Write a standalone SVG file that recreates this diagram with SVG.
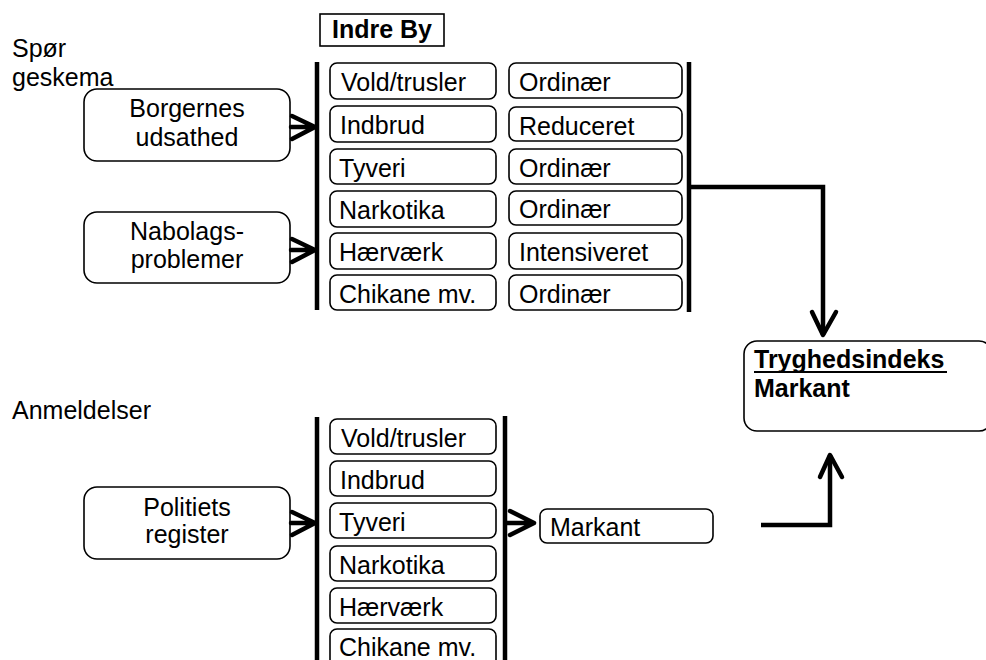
<svg xmlns="http://www.w3.org/2000/svg" width="986" height="660" viewBox="0 0 986 660">
<style>
text{font-family:"Liberation Sans",Arial,sans-serif;font-size:25px;fill:#000}
.b{font-weight:bold}
.box{fill:#fff;stroke:#000;stroke-width:1.6}
.bar{stroke:#000;stroke-width:4.5;fill:none}
.con{stroke:#000;stroke-width:4.5;fill:none;stroke-linecap:round;stroke-linejoin:round}
.sq{stroke-linecap:butt;stroke-linejoin:miter}
</style>
<rect width="986" height="660" fill="#fff"/>
<g id="labels">
<text x="12" y="57">Spør</text>
<text x="12" y="86">geskema</text>
<text x="12" y="419">Anmeldelser</text>
</g>
<g id="indre-by"><rect x="320" y="14" width="124" height="32" fill="#fff" stroke="#000" stroke-width="1.6"/><text class="b" x="332" y="38">Indre By</text></g>
<g id="borgernes"><rect class="box" x="84" y="89" width="206" height="72" rx="13"/><text x="187" y="117" text-anchor="middle">Borgernes</text><text x="187" y="146" text-anchor="middle">udsathed</text></g>
<g id="nabolags"><rect class="box" x="84" y="212" width="206" height="71" rx="13"/><text x="187" y="240" text-anchor="middle">Nabolags-</text><text x="187" y="268" text-anchor="middle">problemer</text></g>
<g id="politiets"><rect class="box" x="84" y="487" width="206" height="72" rx="13"/><text x="187" y="516" text-anchor="middle">Politiets</text><text x="187" y="543" text-anchor="middle">register</text></g>
<g id="top-categories">
<rect class="box" x="330" y="63" width="166" height="36" rx="7"/><text x="341" y="91">Vold/trusler</text>
<rect class="box" x="330" y="106" width="166" height="36" rx="7"/><text x="340" y="134">Indbrud</text>
<rect class="box" x="330" y="149" width="166" height="35" rx="7"/><text x="339" y="177">Tyveri</text>
<rect class="box" x="330" y="191" width="166" height="36" rx="7"/><text x="339" y="219">Narkotika</text>
<rect class="box" x="330" y="233" width="166" height="36" rx="7"/><text x="339" y="261">Hærværk</text>
<rect class="box" x="330" y="275" width="166" height="35" rx="7"/><text x="339" y="303">Chikane mv.</text>
</g>
<g id="top-levels">
<rect class="box" x="509" y="63" width="173" height="35" rx="7"/><text x="519" y="91">Ordinær</text>
<rect class="box" x="509" y="107" width="173" height="34" rx="7"/><text x="519" y="135">Reduceret</text>
<rect class="box" x="509" y="149" width="173" height="35" rx="7"/><text x="519" y="177">Ordinær</text>
<rect class="box" x="509" y="191" width="173" height="34" rx="7"/><text x="519" y="218">Ordinær</text>
<rect class="box" x="509" y="233" width="173" height="36" rx="7"/><text x="519" y="261">Intensiveret</text>
<rect class="box" x="509" y="275" width="173" height="35" rx="7"/><text x="519" y="303">Ordinær</text>
</g>
<g id="bottom-categories">
<rect class="box" x="330" y="419" width="166" height="35" rx="7"/><text x="341" y="447">Vold/trusler</text>
<rect class="box" x="330" y="461" width="166" height="35" rx="7"/><text x="340" y="489">Indbrud</text>
<rect class="box" x="330" y="503" width="166" height="35" rx="7"/><text x="339" y="531">Tyveri</text>
<rect class="box" x="330" y="546" width="166" height="35" rx="7"/><text x="339" y="574">Narkotika</text>
<rect class="box" x="330" y="588" width="166" height="35" rx="7"/><text x="339" y="616">Hærværk</text>
<rect class="box" x="330" y="629" width="166" height="40" rx="7"/><text x="339" y="656">Chikane mv.</text>
</g>
<g id="markant"><rect class="box" x="540" y="509" width="173" height="34" rx="7"/><text x="550" y="536">Markant</text></g>
<g id="tryghedsindeks"><rect class="box" x="744" y="341" width="248" height="90" rx="13"/><text class="b" x="754" y="368">Tryghedsindeks</text><line x1="754" y1="372" x2="947" y2="372" stroke="#000" stroke-width="2"/><text class="b" x="754" y="397">Markant</text></g>
<g id="connectors">
<line class="bar" x1="317" y1="62" x2="317" y2="310"/>
<line class="bar" x1="689" y1="62" x2="689" y2="312"/>
<line class="bar" x1="317" y1="417" x2="317" y2="660"/>
<line class="bar" x1="505" y1="416" x2="505" y2="660"/>
<path class="con" d="M291 127H315M292 116L315 127L292 139"/>
<path class="con" d="M291 250H315M292 239L315 250L292 262"/>
<path class="con" d="M291 523H315M292 512L315 523L292 535"/>
<path class="con" d="M507 523H534M510 511L534 523L510 535"/>
<path class="con sq" d="M689 187H823V335"/>
<path class="con" d="M812 312L823 335L836 312"/>
<path class="con sq" d="M761 525H830V455"/>
<path class="con" d="M820 477L830 455L842 477"/>
</g>
</svg>
